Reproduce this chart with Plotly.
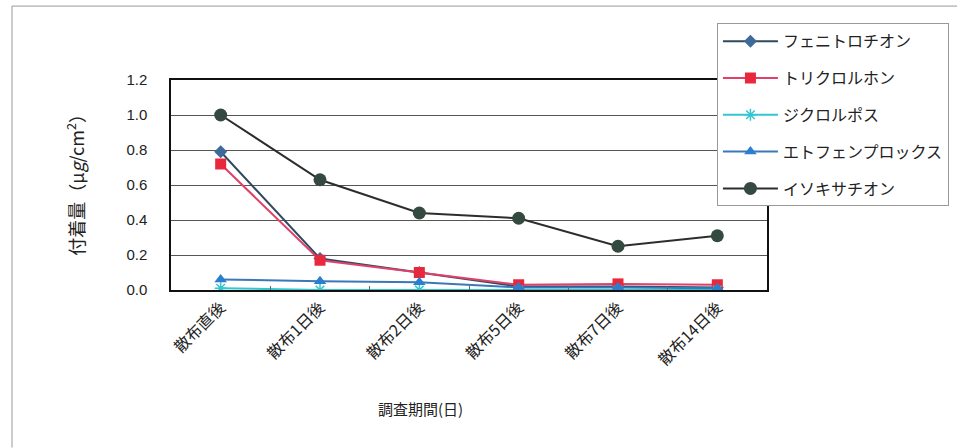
import plotly.graph_objects as go

categories = ["散布直後", "散布1日後", "散布2日後", "散布5日後", "散布7日後", "散布14日後"]

series_names = ["フェニトロチオン", "トリクロルホン", "ジクロルポス", "エトフェンプロックス", "イソキサチオン"]
fenitrothion = [0.79, 0.18, 0.10, 0.02, 0.02, 0.015]
trichlorfon = [0.72, 0.17, 0.10, 0.03, 0.035, 0.03]
dichlorvos = [0.01, 0.0, 0.0, 0.0, 0.0, 0.0]
etofenprox = [0.06, 0.05, 0.045, 0.015, 0.015, 0.01]
isoxathion = [1.0, 0.63, 0.44, 0.41, 0.25, 0.31]

y_ticks = [0.0, 0.2, 0.4, 0.6, 0.8, 1.0, 1.2]

FONT = "Liberation Sans, Noto Sans CJK JP, sans-serif"
JFONT = "Noto Sans CJK JP, sans-serif"

styles = [
    dict(line=dict(color="#2f4a5f", width=2), marker=dict(symbol="diamond", size=10, color="#3d6a99")),
    dict(line=dict(color="#e0406a", width=2), marker=dict(symbol="square", size=11, color="#e8283c")),
    dict(line=dict(color="#33c6cf", width=2), marker=dict(symbol="asterisk", size=10, color="#33c6cf",
                                                           line=dict(color="#33c6cf", width=1.5))),
    dict(line=dict(color="#3a78b8", width=2), marker=dict(symbol="triangle-up", size=11, color="#2a7fd0")),
    dict(line=dict(color="#2a2f2c", width=2), marker=dict(symbol="circle", size=13, color="#34493f")),
]
data = [fenitrothion, trichlorfon, dichlorvos, etofenprox, isoxathion]

fig = go.Figure()
for i, (name, vals, st) in enumerate(zip(series_names, data, styles)):
    fig.add_trace(go.Scatter(x=categories, y=vals, name=name, mode="lines+markers",
                             legendgroup=f"g{i}", **st))

fig.update_layout(
    width=957, height=448,
    margin=dict(l=171, r=190, t=80, b=158, autoexpand=False),
    paper_bgcolor="white", plot_bgcolor="white",
    font=dict(family=FONT, size=14, color="#222"),
    legend=dict(x=0.916, y=1.27, xanchor="left", yanchor="top",
                bgcolor="white", bordercolor="#999", borderwidth=1,
                font=dict(family=JFONT, size=16, color="#222"),
                tracegroupgap=13, itemwidth=55),
    xaxis=dict(type="category", showline=True, linecolor="#111", linewidth=1.5, mirror=True,
               ticks="inside", tickson="boundaries", ticklen=4, tickcolor="#666",
               tickangle=-45, tickfont=dict(family=JFONT, size=16, color="#222"),
               showgrid=False, range=[-0.5, 5.5]),
    yaxis=dict(range=[0, 1.2], tickvals=y_ticks, tickformat=".1f",
               showline=True, linecolor="#111", linewidth=1.5, mirror=True,
               showgrid=True, gridcolor="#555", gridwidth=1,
               tickfont=dict(family=FONT, size=15, color="#222"), ticks="",
               ticklabelstandoff=19, zeroline=False),
    showlegend=True,
)

fig.add_annotation(text="付着量（μ<i>g</i>/cm<sup>2</sup>）", xref="paper", yref="paper",
                   x=-0.161, y=0.52, xanchor="center", yanchor="middle",
                   textangle=-90, showarrow=False,
                   font=dict(family=JFONT, size=18, color="#222"))
fig.add_annotation(text="調査期間(日)", xref="paper", yref="paper",
                   x=0.418, y=-0.562, xanchor="center", yanchor="middle", showarrow=False,
                   font=dict(family=JFONT, size=15, color="#222"))

# outer chart frame
fig.add_shape(type="line", xref="paper", yref="paper", x0=-0.2668, x1=-0.2668, y0=-0.75, y1=1.352,
              line=dict(color="#999", width=1))
fig.add_shape(type="line", xref="paper", yref="paper", x0=-0.2668, x1=1.35, y0=1.352, y1=1.352,
              line=dict(color="#999", width=1))

fig.write_html("out.html", config={"displayModeBar": False},
               post_script="document.body.style.margin='0';document.body.style.overflow='hidden';")
